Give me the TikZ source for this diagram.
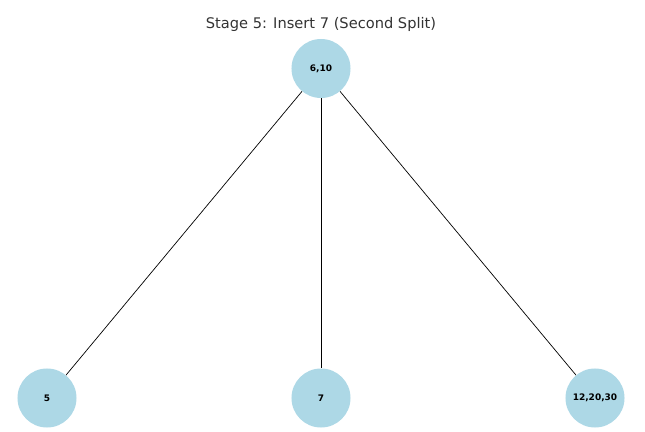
\documentclass[tikz,border=0pt]{standalone}
\usepackage{xcolor}
\usepackage{tikz}
\usepackage{fontspec}
\setmainfont{DejaVu Sans}
\definecolor{keyblue}{RGB}{173, 216, 230}
\definecolor{titlegray}{RGB}{51, 51, 51}
\usetikzlibrary{positioning, calc}

\begin{document}
\begin{tikzpicture}[
    x=0.025cm, y=-0.025cm,
    keynode/.style={circle, fill=keyblue, minimum size=1.475cm, inner sep=0pt, font=\fontsize{6.4}{7}\selectfont\bfseries},
    edge/.style={draw=black, line width=0.5pt}
]
    \useasboundingbox (0,0) rectangle (645,432);

    \node[text=titlegray, font=\fontsize{10.4}{12}\selectfont] (title) at (321, 24) {Stage 5: Insert 7 (Second Split)};

    \node[keynode] (root) at (321, 68.5) {6,10};

    \node[keynode] (left) at (47, 398) {5};
    \node[keynode] (mid) at (321, 398) {7};
    \node[keynode] (right) at (595, 398) {12,20,30};

    \draw[edge] (root) -- (left);
    \draw[edge] (root) -- (mid);
    \draw[edge] (root) -- (right);
\end{tikzpicture}
\end{document}
